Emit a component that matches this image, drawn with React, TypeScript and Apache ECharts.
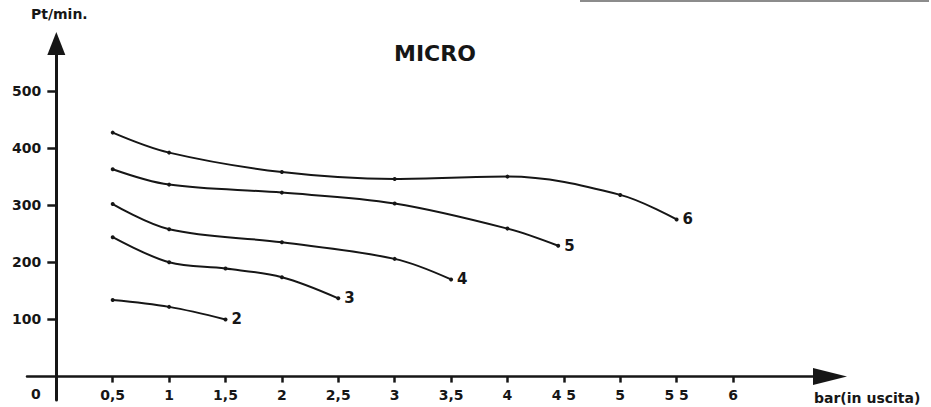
import React, { useEffect, useRef } from "react";
import * as echarts from "echarts";

const xTickValues = [0.5, 1, 1.5, 2, 2.5, 3, 3.5, 4, 4.5, 5, 5.5, 6];
const xTickLabels = ["0,5", "1", "1,5", "2", "2,5", "3", "3,5", "4", "4 5", "5", "5 5", "6"];
const yTickValues = [100, 200, 300, 400, 500];

const curve2X = [0.5, 1, 1.5];
const curve2Y = [134, 122, 100];
const curve3X = [0.5, 1, 1.5, 2, 2.5];
const curve3Y = [244, 200, 189, 174, 137];
const curve4X = [0.5, 1, 2, 3, 3.5];
const curve4Y = [302, 258, 235, 206, 170];
const curve5X = [0.5, 1, 2, 3, 4, 4.45];
const curve5Y = [363, 336, 322, 303, 259, 229];
const curve6X = [0.5, 1, 2, 3, 4, 5, 5.5];
const curve6Y = [427, 392, 358, 346, 350, 318, 275];

const curves = [
  { name: "2", x: curve2X, y: curve2Y },
  { name: "3", x: curve3X, y: curve3Y },
  { name: "4", x: curve4X, y: curve4Y },
  { name: "5", x: curve5X, y: curve5Y },
  { name: "6", x: curve6X, y: curve6Y },
];

const INK = "#161616";
const FONT = "DejaVu Sans";

const X_MIN = -0.26;
const X_MAX = 6.86;
const Y_MIN = -41;
const Y_MAX = 583;
const GRID = { left: 27, top: 43.5, width: 803, height: 356.5 };

export default function App() {
  const ref = useRef<HTMLDivElement>(null);
  useEffect(() => {
    if (!ref.current) return;
    const chart = echarts.init(ref.current, undefined, { renderer: "svg" });
    // shift each axis onto the other's zero value
    const xAxisOffset = -(-Y_MIN / (Y_MAX - Y_MIN)) * GRID.height;
    const yAxisOffset = -(-X_MIN / (X_MAX - X_MIN)) * GRID.width;
    chart.setOption({
      animation: false,
      backgroundColor: "#ffffff",
      title: {
        text: "MICRO",
        left: 394,
        top: 42,
        padding: 0,
        textStyle: { fontFamily: FONT, fontSize: 22, fontWeight: "bold", color: INK },
      },
      grid: {
        ...GRID,
        containLabel: false,
        outerBoundsMode: "none",
      },
      xAxis: {
        type: "value",
        min: X_MIN,
        max: X_MAX,
        offset: xAxisOffset,
        name: "bar(in uscita)",
        nameLocation: "end",
        nameGap: -16,
        nameTextStyle: {
          fontFamily: FONT,
          fontSize: 14,
          fontWeight: "bold",
          color: INK,
          align: "left",
          verticalAlign: "top",
          padding: [14, 0, 0, 0],
        },
        axisLine: {
          show: true,
          onZero: false,
          symbol: ["none", "triangle"],
          symbolSize: [17, 34],
          lineStyle: { color: INK, width: 2.5 },
        },
        axisTick: {
          show: true,
          customValues: xTickValues,
          length: 6,
          lineStyle: { color: INK, width: 2.5 },
        },
        axisLabel: {
          show: true,
          customValues: xTickValues,
          margin: 11,
          fontFamily: FONT,
          fontSize: 14,
          fontWeight: "bold",
          color: INK,
          formatter: (v: number) => {
            const i = xTickValues.findIndex((t) => Math.abs(t - v) < 1e-6);
            return i >= 0 ? xTickLabels[i] : "";
          },
        },
        splitLine: { show: false },
      },
      yAxis: {
        type: "value",
        min: Y_MIN,
        max: Y_MAX,
        offset: yAxisOffset,
        name: "Pt/min.",
        nameLocation: "end",
        nameGap: 23,
        nameTextStyle: {
          fontFamily: FONT,
          fontSize: 14,
          fontWeight: "bold",
          color: INK,
          padding: [0, 0, 0, 6],
        },
        axisLine: {
          show: true,
          onZero: false,
          symbol: ["none", "triangle"],
          symbolSize: [18, 23],
          lineStyle: { color: INK, width: 3 },
        },
        axisTick: {
          show: true,
          customValues: yTickValues,
          length: 9,
          lineStyle: { color: INK, width: 2.5 },
        },
        axisLabel: {
          show: true,
          customValues: yTickValues,
          margin: 15,
          fontFamily: FONT,
          fontSize: 14,
          fontWeight: "bold",
          color: INK,
          padding: [0, 0, 4, 0],
        },
        splitLine: { show: false },
      },
      graphic: [
        {
          type: "text",
          left: 31,
          top: 387,
          style: { text: "0", fontFamily: FONT, fontSize: 14, fontWeight: "bold", fill: INK },
        },
        {
          type: "line",
          shape: { x1: 580, y1: 1, x2: 929, y2: 1 },
          style: { stroke: "#8c8c8c", lineWidth: 2 },
        },
      ],
      series: curves.map((c) => ({
        type: "line",
        name: c.name,
        data: c.x.map((xv, i) => [xv, c.y[i]]),
        smooth: 0.35,
        symbol: "circle",
        symbolSize: 4,
        showSymbol: true,
        itemStyle: { color: INK },
        lineStyle: { color: INK, width: 2 },
        endLabel: {
          show: true,
          formatter: c.name,
          distance: 6,
          fontFamily: FONT,
          fontSize: 15,
          fontWeight: "bold",
          color: INK,
        },
        z: 3,
      })),
    });
    return () => chart.dispose();
  }, []);
  return (
    <div
      ref={ref}
      style={{ position: "fixed", left: 0, top: 0, width: 931, height: 407, background: "#fff" }}
    />
  );
}
